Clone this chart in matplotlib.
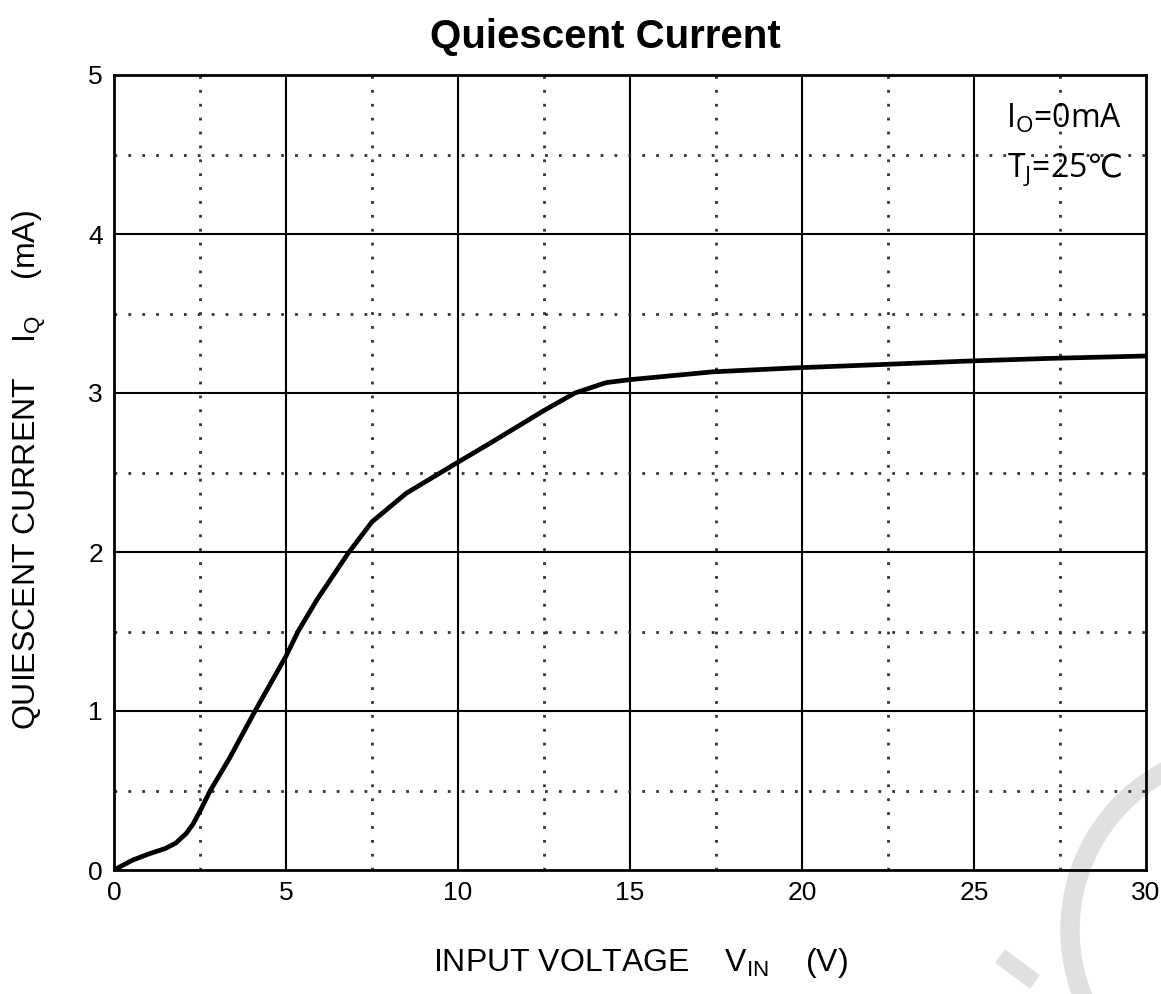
import matplotlib.pyplot as plt
from matplotlib.patches import Arc
from matplotlib.lines import Line2D

# curve
vin = [0, 0.3, 0.55, 1.0, 1.5, 1.8, 2.1, 2.3, 2.5, 2.8, 3.35, 4.1, 5.0, 5.35, 5.9, 6.8,
       7.5, 8.5, 10.0, 10.9, 12.5, 13.4, 14.3, 15.0, 17.4, 19.8, 22.3, 24.7, 27.1, 29.5, 30]
iq = [0, 0.035, 0.063, 0.1, 0.136, 0.17, 0.23, 0.29, 0.37, 0.5, 0.70, 1.0, 1.345, 1.5, 1.70, 1.99,
      2.19, 2.37, 2.565, 2.68, 2.89, 3.0, 3.065, 3.084, 3.133, 3.158, 3.179, 3.2, 3.217, 3.23, 3.233]

xticks = [0, 5, 10, 15, 20, 25, 30]
yticks = [0, 1, 2, 3, 4, 5]
xminor = [2.5, 7.5, 12.5, 17.5, 22.5, 27.5]
yminor = [0.5, 1.5, 2.5, 3.5, 4.5]

plt.rcParams['font.family'] = ['Liberation Sans', 'DejaVu Sans']
plt.rcParams['mathtext.fontset'] = 'dejavusans'

fig = plt.figure(figsize=(11.61, 9.94), dpi=100)
ax = fig.add_axes([114/1161, 1-870/994, 1032/1161, 795/994])
ax.set_facecolor('none')

# watermark
fig.add_artist(Arc((1250, 64), 360, 360, theta1=112, theta2=205, transform=None,
                   color='#e0e0e0', lw=14, zorder=0))
fig.add_artist(Line2D([1000, 1035], [38, 12], transform=None, color='#e0e0e0', lw=12,
                      solid_capstyle='butt', zorder=0))

for x in xticks[1:-1]:
    ax.axvline(x, color='black', lw=1.5, zorder=1)
for y in yticks[1:-1]:
    ax.axhline(y, color='black', lw=1.5, zorder=1)
for x in xminor:
    ax.axvline(x, color='#333333', lw=2, ls=(0, (1, 4)), zorder=1)
for y in yminor:
    ax.axhline(y, color='#333333', lw=2, ls=(0, (1, 4)), zorder=1)

ax.plot(vin, iq, color='black', lw=3.4, zorder=3, solid_joinstyle='round')

ax.set_xlim(0, 30)
ax.set_ylim(0, 5)
ax.set_xticks(xticks)
ax.set_yticks(yticks)
ax.tick_params(length=0, labelsize=19, pad=8)
for s in ax.spines.values():
    s.set_linewidth(2)

fig.text(605/1161, 1-37/994, 'Quiescent Current', ha='center', va='center',
         fontsize=29, fontweight='bold')
fig.text(640/1161, 1-963/994, r'INPUT VOLTAGE    V$_{\mathregular{IN}}$    (V)',
         ha='center', va='center', fontsize=23)
fig.text(30/1161, 1-470/994, r'QUIESCENT CURRENT    I$_{\mathregular{Q}}$    (mA)',
         ha='center', va='center', fontsize=23, rotation=90)

ax.text(0.977, 0.945, r'I$_{\mathregular{O}}$=0mA', transform=ax.transAxes,
        ha='right', va='center', fontsize=23, family='Open Sans')
ax.text(0.977, 0.88, 'T$_{\\mathregular{J}}$=25$\\mathrm{\u2103}$', transform=ax.transAxes,
        ha='right', va='center', fontsize=23, family='Open Sans')

fig.savefig('out.png', dpi=100)
